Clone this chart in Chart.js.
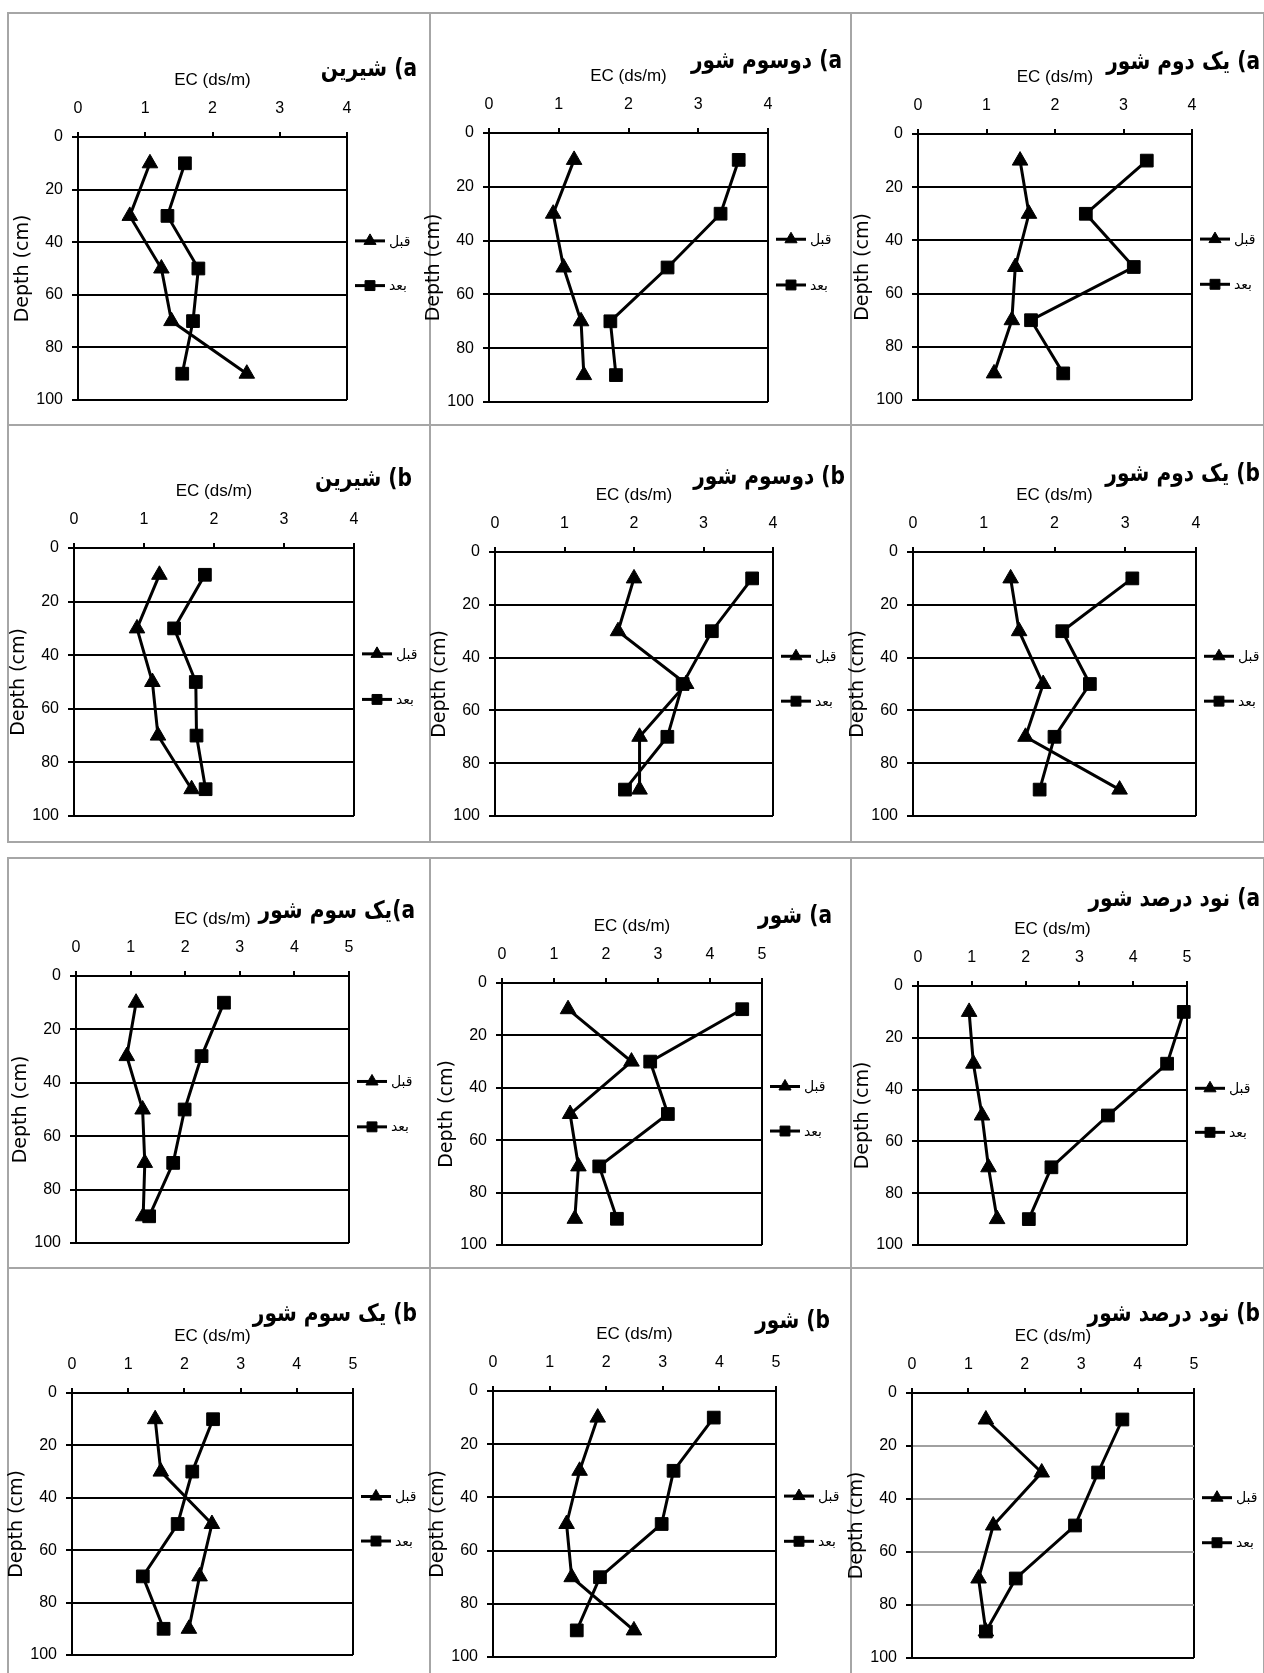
<!DOCTYPE html>
<html>
<head>
<meta charset="utf-8">
<script src="https://cdn.jsdelivr.net/npm/chart.js@4.4.0/dist/chart.umd.min.js"></script>
<style>
  html, body { margin: 0; padding: 0; background: #fff; }
  body { width: 1264px; height: 1673px; position: relative; overflow: hidden; }
  .cell { position: absolute; box-sizing: border-box; border: 2px solid #a6a6a6; }
  canvas { position: absolute; }
</style>
</head>
<body>
<script>
// depth of each sample (cm)
const depths = [10, 30, 50, 70, 90];
const legendLabels = ['قبل', 'بعد'];

// EC (ds/m) before / after, one pair per panel
const shirinA_before = [1.07, 0.77, 1.24, 1.39, 2.51];
const shirinA_after = [1.59, 1.33, 1.79, 1.71, 1.55];
const doSevomA_before = [1.22, 0.92, 1.07, 1.32, 1.36];
const doSevomA_after = [3.58, 3.32, 2.56, 1.74, 1.82];
const yekDovomA_before = [1.49, 1.62, 1.42, 1.37, 1.11];
const yekDovomA_after = [3.34, 2.45, 3.15, 1.65, 2.12];

const shirinB_before = [1.22, 0.90, 1.12, 1.20, 1.68];
const shirinB_after = [1.87, 1.43, 1.74, 1.75, 1.88];
const doSevomB_before = [2.00, 1.77, 2.75, 2.08, 2.08];
const doSevomB_after = [3.70, 3.12, 2.70, 2.48, 1.87];
const yekDovomB_before = [1.38, 1.50, 1.84, 1.59, 2.92];
const yekDovomB_after = [3.10, 2.11, 2.50, 2.00, 1.79];

const yekSevomA_before = [1.10, 0.93, 1.22, 1.26, 1.23];
const yekSevomA_after = [2.71, 2.30, 1.99, 1.78, 1.34];
const shoorA_before = [1.27, 2.49, 1.31, 1.47, 1.40];
const shoorA_after = [4.62, 2.85, 3.19, 1.87, 2.21];
const navadA_before = [0.95, 1.03, 1.19, 1.31, 1.47];
const navadA_after = [4.94, 4.63, 3.53, 2.48, 2.06];

const yekSevomB_before = [1.48, 1.58, 2.49, 2.27, 2.08];
const yekSevomB_after = [2.51, 2.14, 1.88, 1.26, 1.63];
const shoorB_before = [1.85, 1.53, 1.30, 1.39, 2.49];
const shoorB_after = [3.90, 3.19, 2.98, 1.89, 1.48];
const navadB_before = [1.31, 2.30, 1.44, 1.18, 1.31];
const navadB_after = [3.73, 3.30, 2.89, 1.84, 1.31];

const depthTicks = { min: 0, max: 100, step: 20 };

// layout of the grid
const colX = [[8, 430], [430, 851], [851, 1264]];
const rowY = [[13, 425], [425, 842], [858, 1268], [1268, 1685]];

const panels = [
  { c: 0, r: 0, plot: [78, 137, 347, 400], xMax: 4, title: 'a) شیرین', tx: 417, ty: 70, before: shirinA_before, after: shirinA_after },
  { c: 1, r: 0, plot: [489, 133, 768, 402], xMax: 4, title: 'a) دوسوم شور', tx: 842, ty: 62, before: doSevomA_before, after: doSevomA_after },
  { c: 2, r: 0, plot: [918, 134, 1192, 400], xMax: 4, title: 'a) یک دوم شور', tx: 1260, ty: 63, before: yekDovomA_before, after: yekDovomA_after },
  { c: 0, r: 1, plot: [74, 548, 354, 816], xMax: 4, title: 'b) شیرین', tx: 412, ty: 480, before: shirinB_before, after: shirinB_after },
  { c: 1, r: 1, plot: [495, 552, 773, 816], xMax: 4, title: 'b) دوسوم شور', tx: 845, ty: 478, before: doSevomB_before, after: doSevomB_after },
  { c: 2, r: 1, plot: [913, 552, 1196, 816], xMax: 4, title: 'b) یک دوم شور', tx: 1260, ty: 475, before: yekDovomB_before, after: yekDovomB_after },
  { c: 0, r: 2, plot: [76, 976, 349, 1243], xMax: 5, title: 'a)یک سوم شور', tx: 415, ty: 912, before: yekSevomA_before, after: yekSevomA_after },
  { c: 1, r: 2, plot: [502, 983, 762, 1245], xMax: 5, title: 'a) شور', tx: 832, ty: 917, before: shoorA_before, after: shoorA_after },
  { c: 2, r: 2, plot: [918, 986, 1187, 1245], xMax: 5, title: 'a) نود درصد شور', tx: 1260, ty: 900, before: navadA_before, after: navadA_after },
  { c: 0, r: 3, plot: [72, 1393, 353, 1655], xMax: 5, title: 'b) یک سوم شور', tx: 417, ty: 1315, before: yekSevomB_before, after: yekSevomB_after },
  { c: 1, r: 3, plot: [493, 1391, 776, 1657], xMax: 5, title: 'b) شور', tx: 830, ty: 1322, before: shoorB_before, after: shoorB_after },
  { c: 2, r: 3, plot: [912, 1393, 1194, 1658], xMax: 5, title: 'b) نود درصد شور', tx: 1260, ty: 1315, before: navadB_before, after: navadB_after, grid: '#a0a0a0' }
];

const YW = 64;  // width of y axis box
const XH = 67;  // height of top x axis box
const EXTRA_LEFT = 20; // canvas reaches a bit left of its cell so the y title never clips
const numFont = "'Liberation Sans', Arial, sans-serif";
const faFont = "'DejaVu Sans', sans-serif";

// panel title and the line+marker legend at the right of the plot
const panelDecor = {
  id: 'panelDecor',
  afterDraw(chart, args, opts) {
    const ctx = chart.ctx;
    const a = chart.chartArea;
    ctx.save();
    ctx.fillStyle = '#000';
    ctx.font = 'bold 24px ' + faFont;
    ctx.direction = 'rtl';
    ctx.textAlign = 'right';
    ctx.textBaseline = 'middle';
    // squeeze the title horizontally, the original face is narrower
    ctx.translate(opts.tx, opts.ty);
    ctx.scale(0.84, 1);
    ctx.fillText(opts.title, 0, 0);
    ctx.setTransform(1, 0, 0, 1, 0, 0);

    ctx.direction = 'ltr';
    ctx.textAlign = 'left';
    ctx.font = '14px ' + faFont;
    chart.data.datasets.forEach((ds, i) => {
      const y = a.top + a.height * (0.395 + 0.17 * i);
      const x0 = a.right + 8, x1 = x0 + 30;
      ctx.strokeStyle = '#000';
      ctx.lineWidth = 3;
      ctx.beginPath();
      ctx.moveTo(x0, y);
      ctx.lineTo(x1, y);
      ctx.stroke();
      ctx.lineWidth = 1;
      Chart.helpers.drawPoint(ctx, { pointStyle: ds.pointStyle, radius: 7, rotation: 0, borderWidth: 1 }, (x0 + x1) / 2, y);
      ctx.fillText(ds.label, x1 + 4, y + 1);
    });
    ctx.restore();
  }
};

panels.forEach(p => {
  const [cx0, cx1] = colX[p.c];
  const [cy0, cy1] = rowY[p.r];
  const cell = document.createElement('div');
  cell.className = 'cell';
  cell.style.left = (cx0 - 1) + 'px';
  cell.style.top = (cy0 - 1) + 'px';
  cell.style.width = (cx1 - cx0 + 2) + 'px';
  cell.style.height = (cy1 - cy0 + 2) + 'px';
  document.body.appendChild(cell);

  const left = cx0 - EXTRA_LEFT;
  const cv = document.createElement('canvas');
  cv.width = cx1 - left;
  cv.height = cy1 - cy0;
  cv.style.left = left + 'px';
  cv.style.top = cy0 + 'px';
  document.body.appendChild(cv);

  const [pl, pt, pr, pb] = p.plot;
  const inner = p.grid || '#000';

  new Chart(cv, {
    type: 'scatter',
    data: {
      datasets: [
        {
          label: legendLabels[0],
          data: depths.map((d, i) => ({ x: p.before[i], y: d })),
          showLine: true, pointStyle: 'triangle', pointRadius: 9,
          borderColor: '#000', backgroundColor: '#000', borderWidth: 3,
          pointBorderWidth: 1, clip: false, order: 1
        },
        {
          label: legendLabels[1],
          data: depths.map((d, i) => ({ x: p.after[i], y: d })),
          showLine: true, pointStyle: 'rect', pointRadius: 9,
          borderColor: '#000', backgroundColor: '#000', borderWidth: 3,
          pointBorderWidth: 1, clip: false, order: 0
        }
      ]
    },
    options: {
      responsive: false,
      animation: false,
      devicePixelRatio: 1,
      layout: { padding: { left: pl - left - YW, top: pt - cy0 - XH, right: cx1 - pr, bottom: cy1 - pb } },
      plugins: {
        legend: { display: false },
        tooltip: { enabled: false },
        panelDecor: { title: p.title, tx: p.tx - left, ty: p.ty - cy0 }
      },
      scales: {
        x: {
          type: 'linear', position: 'top', min: 0, max: p.xMax,
          ticks: { stepSize: 1, padding: 14, color: '#000', font: { family: numFont, size: 16 } },
          grid: {
            color: c => (c.tick && c.tick.value === p.xMax) ? '#000' : 'rgba(0,0,0,0)',
            lineWidth: 2, tickColor: '#000', tickLength: 5, tickWidth: 2
          },
          border: { color: '#000', width: 2 },
          title: { display: true, text: 'EC (ds/m)', color: '#000', padding: { top: 0, bottom: 0 }, font: { family: numFont, size: 17 } },
          afterFit: s => { s.height = XH; }
        },
        y: {
          type: 'linear', reverse: true, min: depthTicks.min, max: depthTicks.max,
          ticks: { stepSize: depthTicks.step, padding: 9, color: '#000', font: { family: numFont, size: 16 } },
          grid: {
            color: c => (c.tick && (c.tick.value === 0 || c.tick.value === 100)) ? '#000' : inner,
            lineWidth: 2, tickColor: '#000', tickLength: 6, tickWidth: 2
          },
          border: { color: '#000', width: 2 },
          title: { display: true, text: 'Depth (cm)', color: '#000', padding: { top: 0, bottom: 0 }, font: { family: faFont, size: 19, lineHeight: 1 } },
          afterFit: s => { s.width = YW; }
        }
      }
    },
    plugins: [panelDecor]
  });
});
</script>
</body>
</html>
